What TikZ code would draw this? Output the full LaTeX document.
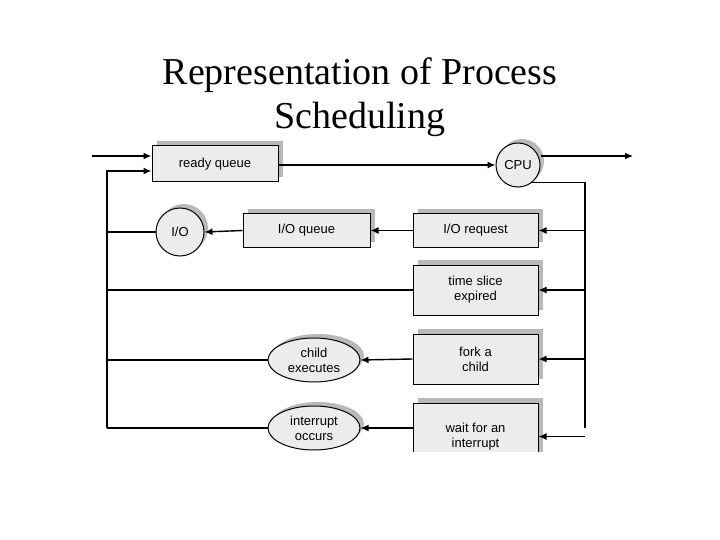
\documentclass[tikz,border=0pt]{standalone}
\usepackage{fontspec}
\setmainfont{Liberation Serif}
\newfontfamily\boxfont{Liberation Sans}
\usetikzlibrary{arrows.meta,shapes.geometric}
\begin{document}
\begin{tikzpicture}[x=1pt,y=-1pt,
  box/.style={draw=black,line width=1pt,fill=gray!15,font=\boxfont\fontsize{13}{15}\selectfont,align=center,minimum width=125pt,inner sep=0pt},
  shad/.style={fill=gray!55},
  ln/.style={line width=1.4pt},
  arr/.style={ln,-{Latex[length=8pt,width=7pt]}}]
\useasboundingbox (0,0) rectangle (720,540);
\node[font=\fontsize{38}{44}\selectfont,align=center] (title) at (360,97) {Representation of Process\\Scheduling};
\begin{scope}
\clip (0,135) rectangle (720,451);
% shadows
\foreach \a/\b/\c/\d in {152/146/278/182, 243/214/370/247, 413/214/538/247, 413/265/538/315, 413/334/538/384, 413/403/538/470}
  \fill[shad] (\a+5,\b-5) rectangle (\c+5,\d-5);
\fill[gray!55] (522,161) circle (22);
\fill[gray!55] (184,228) circle (24);
\fill[gray!55] (318,356) ellipse (46 and 22);
\fill[gray!55] (318,424) ellipse (46 and 22);
\node[box,minimum width=126pt,minimum height=36pt] (rq) at (215,164) {ready queue};
\node[box,minimum width=127pt,minimum height=33pt] (ioq) at (306.5,230.5) {I/O queue};
\node[box,minimum height=33pt] (ior) at (475.5,230.5) {I/O request};
\node[box,minimum height=50pt] (ts) at (475.5,290) {time slice\\expired};
\node[box,minimum height=50pt] (fk) at (475.5,359) {fork a\\child};
\node[box,minimum height=67pt] (wi) at (475.5,436.5) {wait for an\\interrupt};
\node[circle,draw,line width=1pt,fill=gray!15,minimum size=44pt,inner sep=0pt,font=\boxfont\fontsize{13}{15}\selectfont] (cpu) at (518,165) {CPU};
\node[circle,draw,line width=1pt,fill=gray!15,minimum size=48pt,inner sep=0pt,font=\boxfont\fontsize{13}{15}\selectfont] (io) at (180,232) {I/O};
\node[ellipse,draw,line width=1pt,fill=gray!15,minimum width=92pt,minimum height=44pt,inner sep=0pt,align=center,font=\boxfont\fontsize{13}{15}\selectfont] (ce) at (314,360) {child\\executes};
\node[ellipse,draw,line width=1pt,fill=gray!15,minimum width=92pt,minimum height=44pt,inner sep=0pt,align=center,font=\boxfont\fontsize{13}{15}\selectfont] (ie) at (314,428) {interrupt\\occurs};
% coordinates
\coordinate (in0) at (92,156);
\coordinate (out0) at (633,156);
\coordinate (L1) at (107,171);
\coordinate (L2) at (107,428);
\coordinate (R1) at (585,178);
\coordinate (R2) at (585,428);
\draw[arr] (in0) -- (rq.west |- in0);
\draw[arr] (L2) -- (L1) -- (rq.west |- L1);
\draw[arr] (rq.east |- cpu) -- (cpu.west);
\draw[arr] (cpu.east |- out0) -- (out0);
\draw[ln] (cpu.-50) -- (cpu.-50 -| R1) -- (R2);
\foreach \n in {ior,ts,fk,wi}
  \draw[arr] (\n.east -| R1) -- (\n.east);
\draw[arr] (ior.west) -- (ioq.east);
\draw[arr] (ioq.west) -- (io.east);
\draw[ln] (io.west) -- (io.west -| L1);
\draw[ln] (ts.west) -- (ts.west -| L1);
\draw[arr] (fk.west) -- (ce.east);
\draw[ln] (ce.west) -- (ce.west -| L1);
\draw[arr] (wi.east |- ie) ++(-125,0) -- (ie.east);
\draw[ln] (ie.west) -- (L2);
\end{scope}
\end{tikzpicture}
\end{document}
